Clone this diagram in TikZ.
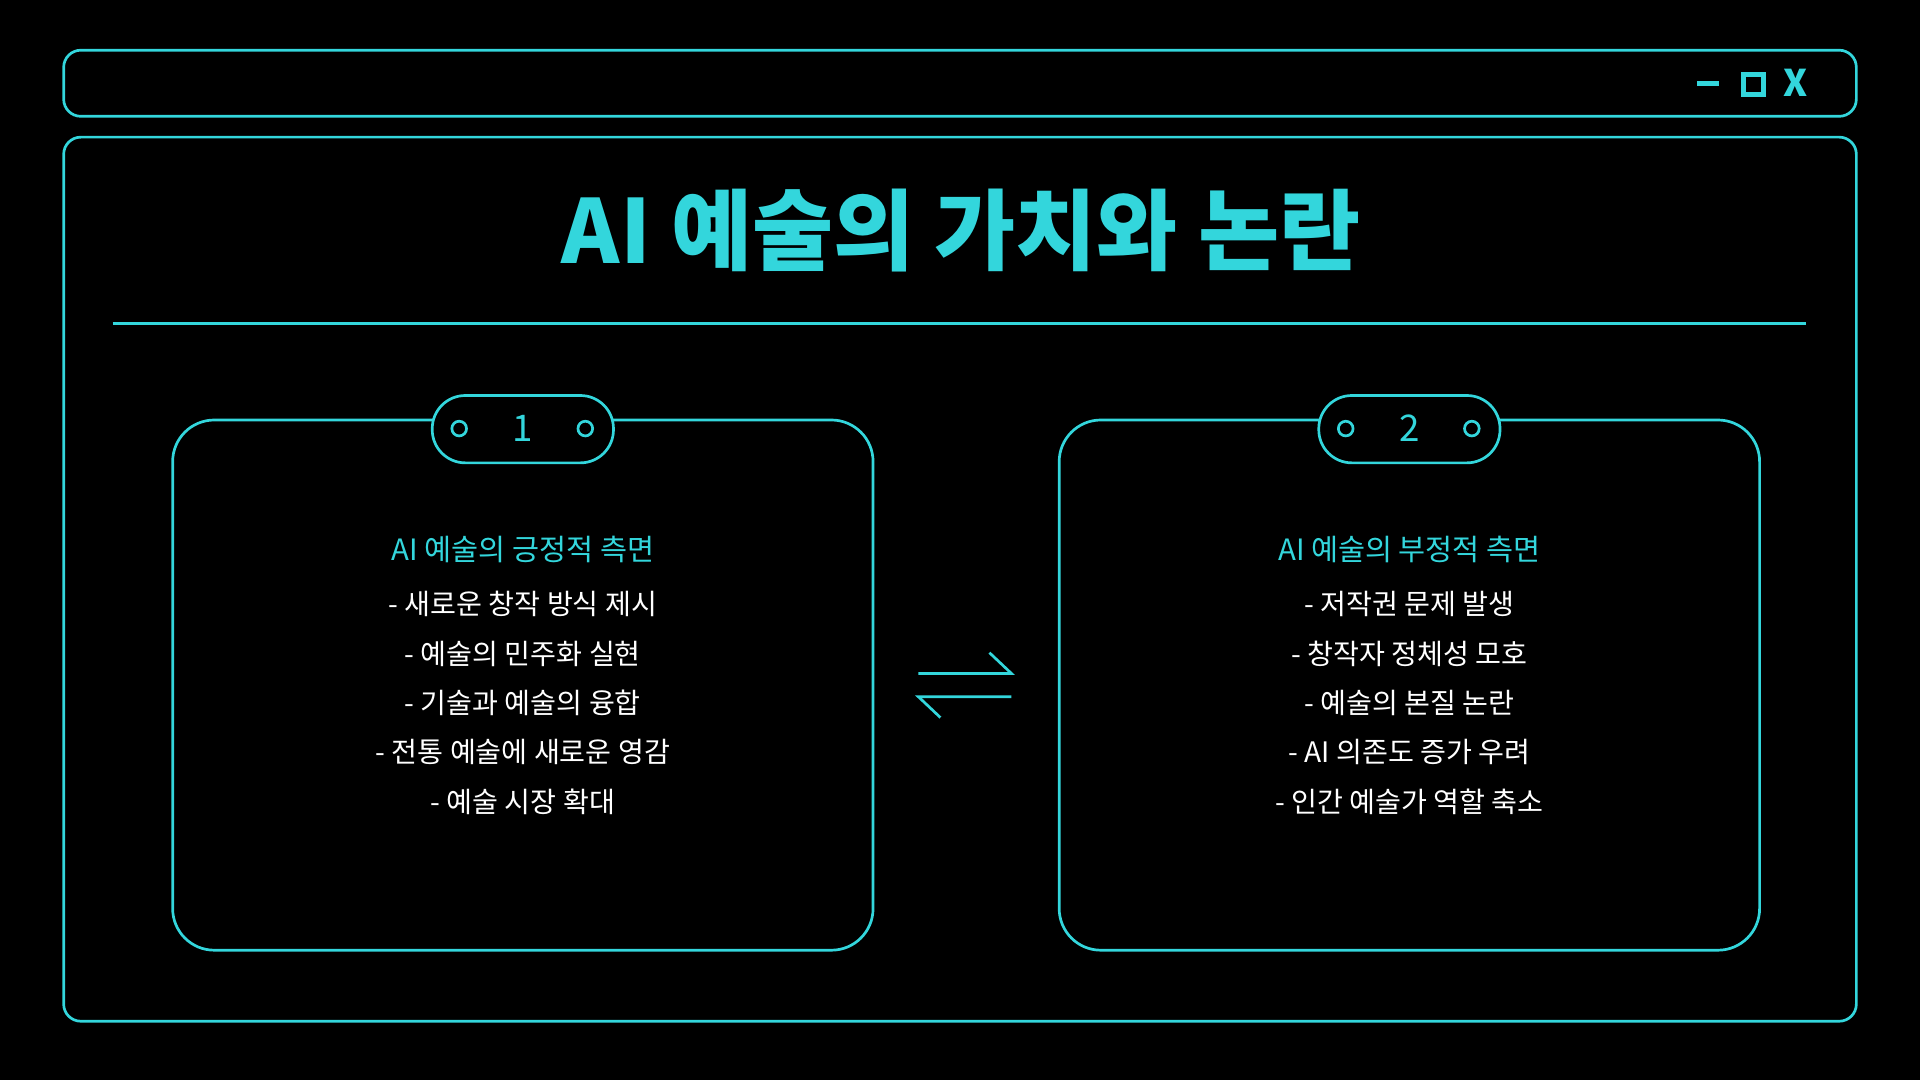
\documentclass[tikz,border=0pt]{standalone}
\usepackage{fontspec}
\setmainfont{Noto Sans CJK KR}
\newfontfamily\kr{Noto Sans CJK KR}
\definecolor{cy}{HTML}{33D6DC}
\begin{document}
\begin{tikzpicture}[x=0.5pt,y=-0.5pt,
  ln/.style={draw=cy,line width=1.1pt},
  item/.style={text=white,font=\kr\fontsize{11.5}{13}\selectfont,anchor=center},
  head/.style={text=cy,font=\kr\fontsize{12}{14}\selectfont,anchor=center}]
\fill[black] (0,0) rectangle (1568,882);
\useasboundingbox (0,0) rectangle (1568,882);
\draw[ln,rounded corners=7pt] (52,41) rectangle (1516,95);
\draw[ln,line width=2pt] (1386,68) -- (1404,68);
\draw[ln,line width=2pt] (1424,61) rectangle (1440,77);
\node[text=cy,font=\kr\bfseries\fontsize{15}{15}\selectfont] (x) at (1466,68) {X};
\draw[ln,rounded corners=7pt] (52,112) rectangle (1516,834);
\node[text=cy,font=\kr\bfseries\fontsize{36}{40}\selectfont] (title) at (785,188) {AI 예술의 가치와 논란};
\draw[ln] (92,264) -- (1475,264);
\foreach \ox/\n/\name in {141/1/l,865/2/r}{
  \draw[ln,rounded corners=17pt] (\ox,343) rectangle ++(572,433);
  \draw[ln,fill=black,rounded corners=13.5pt] (\ox+212,323) rectangle ++(148,55);
  \draw[ln] (\ox+234,350) circle (6);
  \draw[ln] (\ox+337,350) circle (6);
  \node[text=cy,font=\kr\fontsize{15}{15}\selectfont] (n\name) at (\ox+286,350) {\n};
}
\node[head] (hl) at (427,449) {AI 예술의 긍정적 측면};
\node[item] (l1) at (427,493) {- 새로운 창작 방식 제시};
\node[item] (l2) at (427,534) {- 예술의 민주화 실현};
\node[item] (l3) at (427,574) {- 기술과 예술의 융합};
\node[item] (l4) at (427,614) {- 전통 예술에 새로운 영감};
\node[item] (l5) at (427,655) {- 예술 시장 확대};
\node[head] (hr) at (1151,449) {AI 예술의 부정적 측면};
\node[item] (r1) at (1151,493) {- 저작권 문제 발생};
\node[item] (r2) at (1151,534) {- 창작자 정체성 모호};
\node[item] (r3) at (1151,574) {- 예술의 본질 논란};
\node[item] (r4) at (1151,614) {- AI 의존도 증가 우려};
\node[item] (r5) at (1151,655) {- 인간 예술가 역할 축소};
\draw[ln] (750,550) -- (826,550) -- (808,533);
\draw[ln] (826,569) -- (750,569) -- (768,586);
\end{tikzpicture}
\end{document}
